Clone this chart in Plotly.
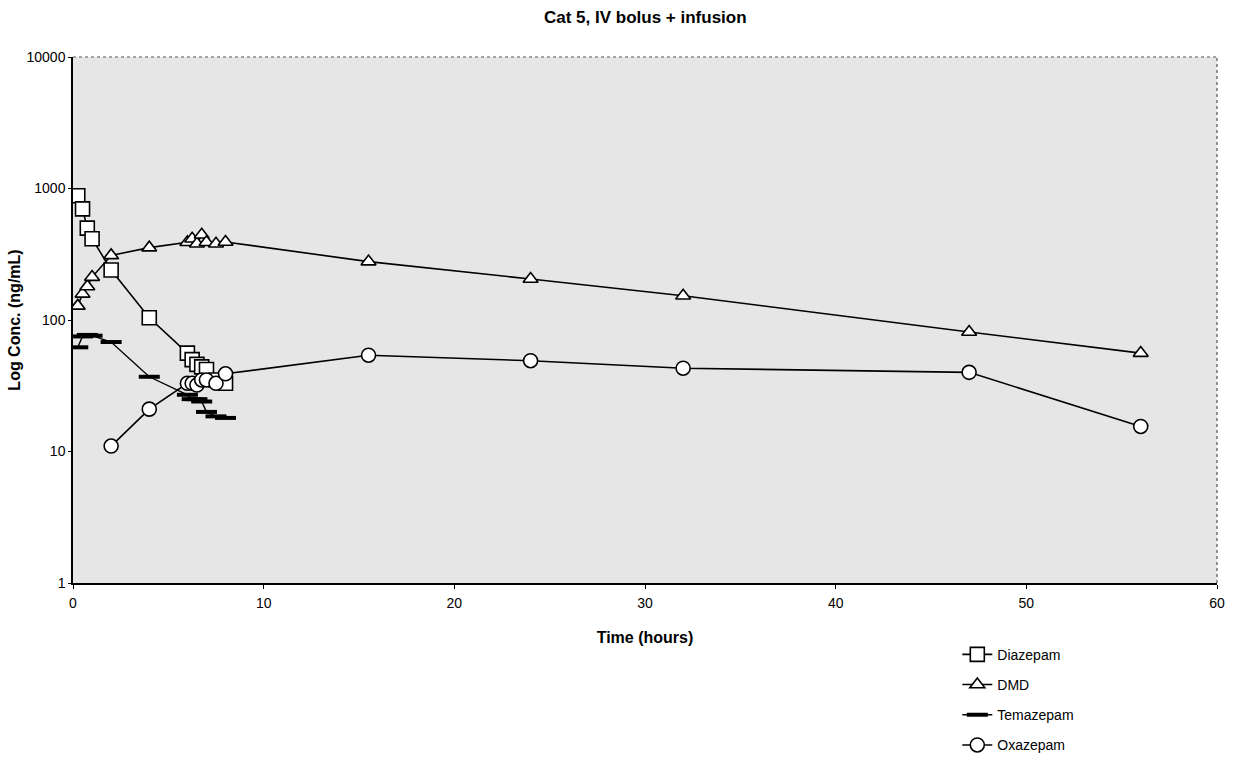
import plotly.graph_objects as go

# Sampling times (hours) and measured concentrations (ng/mL)
diazepam_t = [0.25, 0.5, 0.75, 1, 2, 4, 6, 6.25, 6.5, 6.75, 7, 7.5, 8]
diazepam_c = [880, 700, 500, 415, 240, 104, 56, 50, 46, 44, 42, 35, 33]

dmd_t = [0.25, 0.5, 0.75, 1, 2, 4, 6, 6.25, 6.5, 6.75, 7, 7.5, 8, 15.5, 24, 32, 47, 56]
dmd_c = [128, 158, 180, 212, 310, 355, 390, 415, 380, 445, 390, 380, 392, 278, 205, 153, 81, 56]

temazepam_t = [0.25, 0.5, 0.75, 1, 2, 4, 6, 6.25, 6.5, 6.75, 7, 7.5, 8]
temazepam_c = [62, 75, 77, 76, 68, 37, 27, 25, 25, 24, 20, 18.5, 18]

oxazepam_t = [2, 4, 6, 6.25, 6.5, 6.75, 7, 7.5, 8, 15.5, 24, 32, 47, 56]
oxazepam_c = [11, 21, 33, 33, 32, 35, 35, 33, 39, 54, 49, 43, 40, 15.5]

x_ticks = [0, 10, 20, 30, 40, 50, 60]
y_ticks = [1, 10, 100, 1000, 10000]

FONT = "Liberation Sans, Arial, sans-serif"

fig = go.Figure()

def open_marker(symbol, size):
    return dict(symbol=symbol, size=size, color="white",
                line=dict(color="black", width=1.6))

fig.add_trace(go.Scatter(
    x=diazepam_t, y=diazepam_c, name="Diazepam", mode="lines+markers",
    line=dict(color="black", width=1.6), marker=open_marker("square", 14),
    legendgroup="a"))
fig.add_trace(go.Scatter(
    x=dmd_t, y=dmd_c, name="DMD", mode="lines+markers",
    line=dict(color="black", width=1.6), marker=open_marker("triangle-up", 13),
    legendgroup="b"))
fig.add_trace(go.Scatter(
    x=temazepam_t, y=temazepam_c, name="Temazepam", mode="lines+markers",
    line=dict(color="black", width=1.4),
    marker=dict(symbol="line-ew", size=15, color="black",
                line=dict(color="black", width=4)),
    legendgroup="c"))
fig.add_trace(go.Scatter(
    x=oxazepam_t, y=oxazepam_c, name="Oxazepam", mode="lines+markers",
    line=dict(color="black", width=1.6), marker=open_marker("circle", 14),
    legendgroup="d"))

# thin dotted frame on the top and right edges of the plotting area
frame = dict(color="#555555", width=1.2, dash="dot")
fig.add_shape(type="line", xref="paper", yref="paper", x0=0, y0=1, x1=1, y1=1,
              line=frame, layer="above")
fig.add_shape(type="line", xref="paper", yref="paper", x0=1, y0=0, x1=1, y1=1,
              line=frame, layer="above")

fig.update_layout(
    width=1241, height=763,
    margin=dict(l=73, r=24, t=57, b=180, autoexpand=False),
    paper_bgcolor="white",
    plot_bgcolor="#e6e6e6",
    font=dict(family=FONT, size=14, color="black"),
    title=dict(text="<b>Cat 5, IV bolus + infusion</b>", x=0.52, xanchor="center",
               y=0.977, yanchor="middle", font=dict(size=17, family=FONT)),
    showlegend=True,
    legend=dict(x=0.773, y=-0.106, xanchor="left", yanchor="top",
                bgcolor="rgba(0,0,0,0)", font=dict(size=14, family=FONT),
                tracegroupgap=9, itemwidth=30),
)

fig.update_xaxes(
    range=[0, 60], tickvals=x_ticks, ticktext=[str(v) for v in x_ticks],
    showgrid=False, zeroline=False,
    showline=True, linecolor="black", linewidth=1.5, mirror=False,
    ticks="outside", ticklen=4, tickcolor="black", ticklabelstandoff=2,
    title=dict(text="<b>Time (hours)</b>", font=dict(size=16), standoff=22),
)
fig.update_yaxes(
    type="log", range=[0, 4], tickvals=y_ticks, ticktext=[str(v) for v in y_ticks],
    showgrid=False, zeroline=False,
    showline=True, linecolor="black", linewidth=1.5, mirror=False,
    ticks="outside", ticklen=3, tickcolor="black", tickfont=dict(size=14),
    title=dict(text="<b>Log Conc. (ng/mL)</b>", font=dict(size=16), standoff=2),
)

fig.write_html("out.html")
